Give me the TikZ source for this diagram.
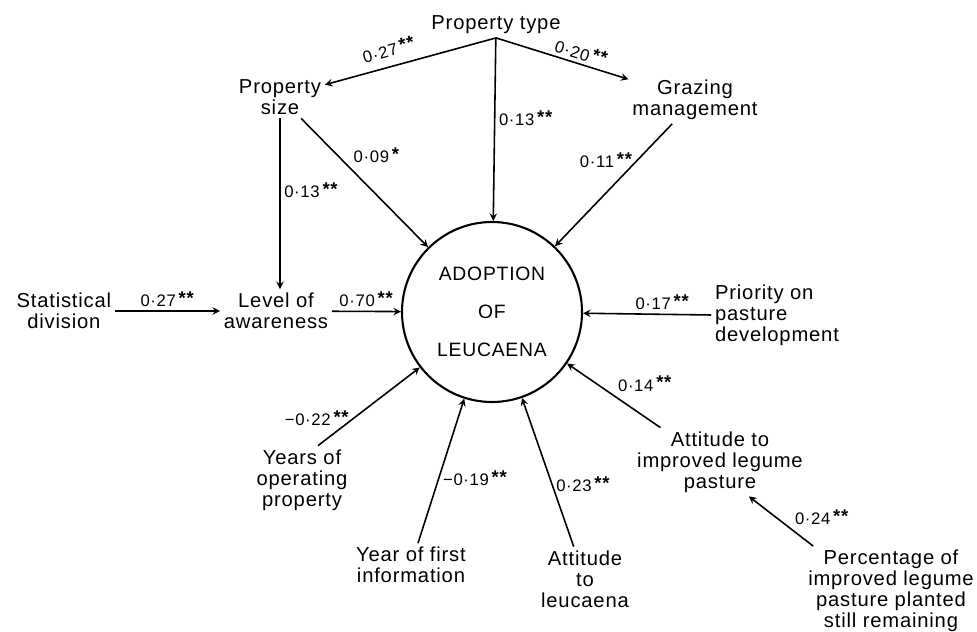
\documentclass[tikz,border=0pt]{standalone}
\usepackage{fontspec}
\setmainfont{Liberation Sans}[LetterSpace=4]
\usetikzlibrary{positioning}
\tikzset{%
  var/.style = {align=center, inner sep=2pt,
        font=\fontsize{11.5}{12}\selectfont},
  hub/.style = {circle, draw, line width=1.2pt, minimum size=3.6cm,
        align=center, font=\fontsize{11}{21.5}\selectfont},
  pcoef/.style = {inner sep=2pt, font=\fontsize{9.5}{11}\selectfont},
  link/.style = {-stealth, line width=0.9pt}
}
\newcommand{\sig}[2]{#1\,\raisebox{0.25ex}{\fontsize{10.5}{11}\selectfont\textbf{#2}}}

\begin{document}
\begin{tikzpicture}[x=0.2mm, y=-0.2mm]
    \useasboundingbox (0,0) rectangle (977,632);
    \node[hub] (adopt) at (492,312) {ADOPTION\\OF\\LEUCAENA};
    \node[var] (ptype) at (496,25) {Property type};
    \node[var] (psize) at (280,97) {Property\\size};
    \node[var] (graz) at (695,100) {Grazing\\management};
    \node[var] (level) at (276,311) {Level of\\awareness};
    \node[var] (stat) [left=2.1cm of level] {Statistical\\division};
    \node[var, align=left] (prio) at (777,315) {Priority on\\pasture\\development};
    \node[var] (years) at (302,480) {Years of\\operating\\property};
    \node[var] (first) at (411,565) {Year of first\\information};
    \node[var] (attl) at (585,579) {Attitude\\to\\leucaena};
    \node[var] (attp) at (720,462) {Attitude to\\improved legume\\pasture};
    \node[var] (perc) at (891,591) {Percentage of\\improved legume\\pasture planted\\still remaining};

    \path[link] (psize) edge[stealth-] node[pcoef, sloped, above=3pt, pos=0.4] {\sig{0·27}{**}} (ptype.south)
        (ptype.south) edge node[pcoef, sloped, above, pos=0.62] {\sig{0·20}{**}} (graz)
        (ptype) edge node[pcoef, right, pos=0.44] {\sig{0·13}{**}} (adopt)
        (psize) edge node[pcoef, right, pos=0.42] {\sig{0·13}{**}} (psize |- level.north)
        (psize) edge node[pcoef, above right, pos=0.38] {\sig{0·09}{*}} (adopt)
        (graz) edge node[pcoef, left, pos=0.3] {\sig{0·11}{**}} (adopt)
        (stat) edge node[pcoef, above] {\sig{0·27}{**}} (level)
        (level) edge node[pcoef, above] {\sig{0·70}{**}} (adopt)
        (prio.west) edge node[pcoef, above, pos=0.38] {\sig{0·17}{**}} (adopt)
        (years.65) edge node[pcoef, left, pos=0.35] {\sig{−0·22}{**}} (adopt)
        (first) edge node[pcoef, right, pos=0.45] {\sig{−0·19}{**}} (adopt)
        (attl) edge node[pcoef, right, pos=0.42] {\sig{0·23}{**}} (adopt)
        (attp.150) edge node[pcoef, above right, pos=0.5] {\sig{0·14}{**}} (adopt)
        (perc.150) edge node[pcoef, above right, pos=0.35] {\sig{0·24}{**}} (attp.310);
\end{tikzpicture}
\end{document}
